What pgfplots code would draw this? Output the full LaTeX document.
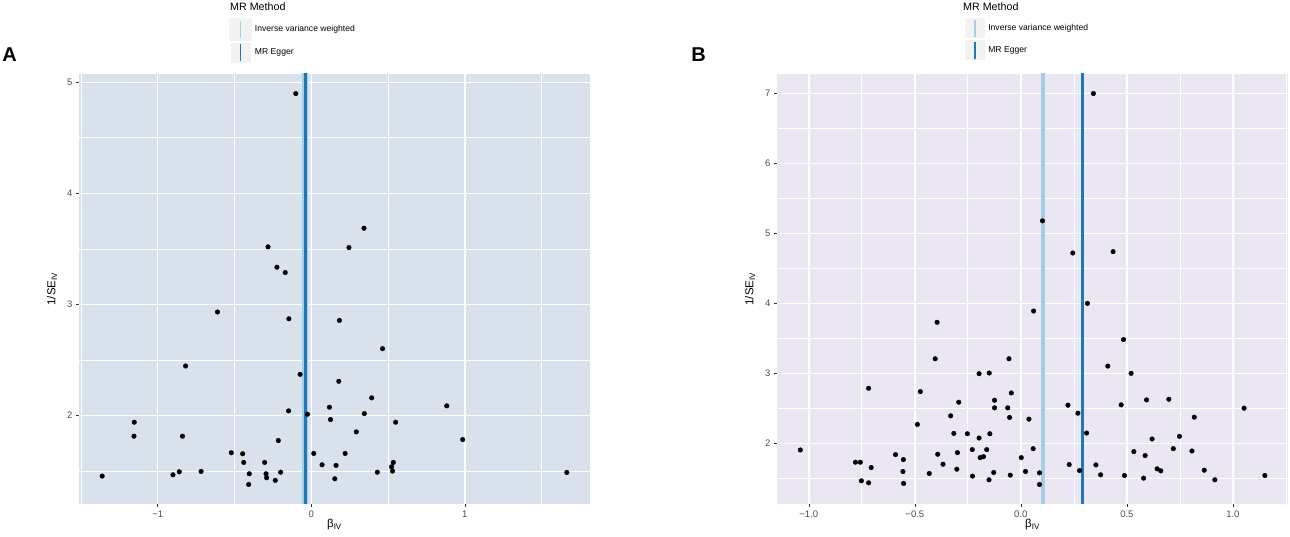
\documentclass[border=0pt]{standalone}
\usepackage{fontspec}
\setmainfont{Liberation Sans}
\usepackage{pgfplots}
\pgfplotsset{compat=1.18}
\definecolor{ivw}{HTML}{A6CEE3}
\definecolor{egger}{HTML}{1F78B4}
\definecolor{bgA}{HTML}{D9E1EC}
\definecolor{bgB}{HTML}{EAE6F2}
\definecolor{tickc}{HTML}{4D4D4D}
\definecolor{tickm}{HTML}{333333}
\pgfplotsset{
 mr/.style={
  scale only axis, width=511pt, height=430pt,
  axis line style={draw=none},
  tick align=outside, major tick length=3pt, minor tick length=0pt,
  xtick pos=bottom, ytick pos=left,
  tick style={tickm, line width=0.6pt},
  grid=both,
  major grid style={white, line width=1.4pt},
  minor grid style={white, line width=0.7pt},
  tick label style={font=\fontsize{9.5}{11}\selectfont, text=tickc},
  /pgf/number format/assume math mode=true,
  xlabel style={font=\fontsize{11.5}{13}\selectfont, at={(axis description cs:0.5,-0.0488)}, anchor=center},
  ylabel style={font=\fontsize{11.5}{13}\selectfont, at={(axis description cs:-0.0528,0.5)}, anchor=center},
  xlabel={β\textsubscript{IV}},
  ylabel={1/SE\textsubscript{IV}},
  legend style={draw=none, fill=none, inner sep=0pt, outer sep=0pt, row sep=2pt,
    font=\fontsize{8.6}{10}\selectfont, anchor=north west,
    nodes={inner xsep=3pt, inner ysep=0pt}},
  legend cell align=left,
  legend image code/.code={\fill[black!5] (0pt,-8.5pt) rectangle (17pt,8.5pt); \draw[##1, line width=1.5pt] (8.5pt,-8.5pt) -- (8.5pt,8.5pt);},
 }
}
\begin{document}
\begin{tikzpicture}
\path[use as bounding box] (0,0) rectangle (1290pt,537pt);
\node[font=\bfseries\fontsize{20}{22}\selectfont, inner sep=0pt] at (9.5pt,482pt) {A};
\node[font=\bfseries\fontsize{20}{22}\selectfont, inner sep=0pt] at (698.5pt,482pt) {B};
\node[anchor=west, inner sep=0pt, font=\fontsize{10.7}{12}\selectfont] at (230pt,530pt) {MR Method};
\node[anchor=west, inner sep=0pt, font=\fontsize{10.7}{12}\selectfont] at (963pt,530pt) {MR Method};
% ---------------- Panel A ----------------
\begin{axis}[mr, at={(79pt,33pt)}, anchor=south west,
  axis background/.style={fill=bgA},
  xmin=-1.513, xmax=1.815, ymin=1.204, ymax=5.074,
  xtick={-1,0,1}, xticklabels={−1,0,1},
  minor xtick={-1.5,-0.5,0.5,1.5},
  ytick={2,3,4,5}, minor ytick={1.5,2.5,3.5,4.5},
  legend style={at={(axis description cs:0.2945,1.1302)}}]
\addplot[only marks, mark=*, mark size=2.3pt, black, forget plot] coordinates {
(-1.362,1.455) (-1.153,1.940) (-1.155,1.814) (-0.901,1.467) (-0.860,1.494)
(-0.839,1.814) (-0.819,2.446) (-0.718,1.497) (-0.611,2.932) (-0.521,1.665)
(-0.447,1.656) (-0.440,1.578) (-0.404,1.476) (-0.408,1.380) (-0.304,1.578)
(-0.295,1.476) (-0.291,1.440) (-0.235,1.416) (-0.200,1.490) (-0.215,1.775)
(-0.148,2.042) (-0.146,2.871) (-0.073,2.371) (-0.025,2.012) (0.016,1.659)
(0.070,1.557) (0.161,1.551) (0.153,1.431) (0.118,2.075) (0.125,1.964)
(0.183,2.856) (0.179,2.308) (0.464,2.602) (0.393,2.159) (0.345,2.018)
(0.549,1.940) (0.293,1.853) (0.220,1.659) (0.430,1.490) (0.534,1.578)
(0.523,1.539) (0.529,1.500) (0.882,2.087) (0.986,1.784) (1.664,1.488)
(-0.101,4.898) (-0.282,3.518) (-0.224,3.335) (-0.170,3.287) (0.343,3.686)
(0.245,3.512)};
\addplot[ivw, line width=5.5pt] coordinates {(-0.040,0) (-0.040,10)};
\addlegendentry{Inverse variance weighted}
\addplot[egger, line width=3pt] coordinates {(-0.035,0) (-0.035,10)};
\addlegendentry{MR Egger}
\end{axis}
% ---------------- Panel B ----------------
\begin{axis}[mr, at={(777pt,33pt)}, anchor=south west,
  axis background/.style={fill=bgB},
  xmin=-1.15, xmax=1.26, ymin=1.133, ymax=7.279,
  xtick={-1,-0.5,0,0.5,1}, xticklabels={−1.0,−0.5,0.0,0.5,1.0},
  minor xtick={-1.25,-0.75,-0.25,0.25,0.75,1.25},
  ytick={2,3,4,5,6,7}, minor ytick={1.5,2.5,3.5,4.5,5.5,6.5},
  legend style={at={(axis description cs:0.3675,1.1302)}}]
\addplot[only marks, mark=*, mark size=2.3pt, black, forget plot] coordinates {
(0.342,7.0) (0.102,5.18) (0.245,4.72) (0.435,4.74) (0.314,4.0)
(0.060,3.891) (0.484,3.483) (0.410,3.104) (0.520,3.0) (0.222,2.545)
(0.269,2.431) (0.473,2.550) (0.593,2.621) (0.698,2.630) (1.053,2.502)
(0.818,2.374) (0.038,2.346) (0.310,2.147) (0.748,2.100) (0.619,2.062)
(0.058,1.924) (0.719,1.924) (0.533,1.882) (0.586,1.825) (0.807,1.891)
(0.002,1.796) (0.228,1.697) (0.354,1.692) (0.022,1.597) (0.088,1.578)
(0.277,1.611) (0.376,1.550) (0.489,1.540) (0.579,1.502) (0.643,1.635)
(0.660,1.607) (0.865,1.616) (0.915,1.479) (1.151,1.540) (0.088,1.412)
(-1.040,1.905) (-0.780,1.73) (-0.757,1.73) (-0.718,2.787) (-0.752,1.464)
(-0.718,1.436) (-0.706,1.654) (-0.591,1.839) (-0.554,1.768) (-0.556,1.597)
(-0.553,1.427) (-0.474,2.739) (-0.488,2.27) (-0.432,1.569) (-0.395,3.730)
(-0.404,3.209) (-0.392,1.844) (-0.367,1.701) (-0.331,2.393) (-0.316,2.142)
(-0.293,2.588) (-0.299,1.867) (-0.302,1.630) (-0.252,2.137) (-0.229,1.910)
(-0.228,1.531) (-0.197,2.995) (-0.197,2.076) (-0.192,1.796) (-0.176,1.810)
(-0.161,1.910) (-0.149,3.005) (-0.146,2.137) (-0.150,1.479) (-0.128,1.583)
(-0.124,2.616) (-0.124,2.507) (-0.062,2.507) (-0.056,3.209) (-0.053,2.370)
(-0.045,2.720) (-0.050,1.545)};
\addplot[ivw, line width=3.5pt] coordinates {(0.104,0) (0.104,10)};
\addlegendentry{Inverse variance weighted}
\addplot[egger, line width=3pt] coordinates {(0.289,0) (0.289,10)};
\addlegendentry{MR Egger}
\end{axis}
\end{tikzpicture}
\end{document}
